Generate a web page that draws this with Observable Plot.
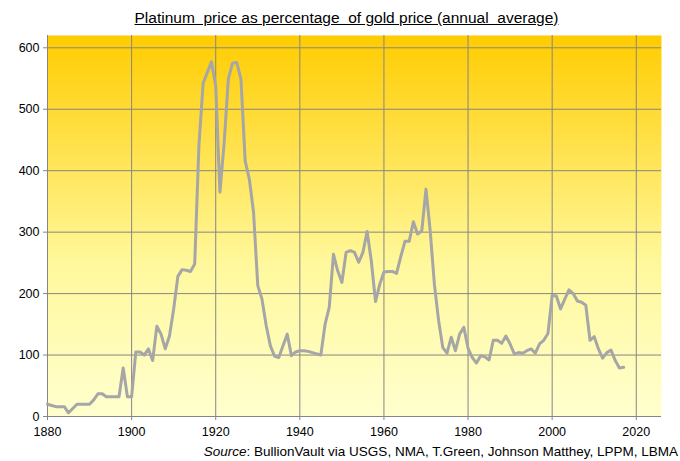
<!DOCTYPE html>
<html>
<head>
<meta charset="utf-8">
<script src="https://cdn.jsdelivr.net/npm/d3@7"></script>
<script src="https://cdn.jsdelivr.net/npm/@observablehq/plot@0.6"></script>
<style>
  html, body { margin: 0; padding: 0; background: #ffffff; }
  #wrap { width: 680px; font-family: "Liberation Sans", Arial, sans-serif; color: #000; }
  #title { height: 30px; box-sizing: border-box; padding-left: 13px; text-align: center; font-size: 15.5px; line-height: 15px; padding-top: 10px; white-space: pre; }
  #title span { text-decoration: underline; }
  #caption { height: 16px; box-sizing: border-box; text-align: right; padding-right: 2px; font-size: 13.5px; line-height: 14px; white-space: pre; }
</style>
</head>
<body>
<div id="wrap">
  <div id="title"><span>Platinum  price as percentage  of gold price (annual  average)</span></div>
  <div id="chart"></div>
  <div id="caption"><i>Source</i>: BullionVault via USGS, NMA, T.Green, Johnson Matthey, LPPM, LBMA</div>
</div>
<script>
// Years (categories)
const firstYear = 1880;
const lastYear = 2017;
// Platinum price as % of gold price, annual average, one value per year 1880..2017
const ratioValues = [
  20, 18, 16, 16, 16, 6, 13, 20, 20, 20,          // 1880-1889
  20, 27, 37, 37, 32, 32, 32, 32, 79, 32,         // 1890-1899
  32, 105, 105, 100, 110, 91, 147, 134, 110, 131, // 1900-1909
  175, 228, 239, 238, 236, 248, 440, 542, 560, 577, // 1910-1919
  538, 365, 445, 549, 575, 576, 549, 416, 386, 332, // 1920-1929
  213, 191, 148, 115, 98, 96, 115, 134, 99, 105,  // 1930-1939
  107, 107, 106, 104, 102, 100, 150, 178, 264, 237, // 1940-1949
  218, 267, 270, 267, 251, 267, 301, 253, 187, 215, // 1950-1959
  235, 236, 236, 233, 260, 285, 285, 317, 297, 302, // 1960-1969
  370, 302, 215, 156, 112, 103, 129, 107, 134, 145, // 1970-1979
  111, 96, 87, 99, 97, 92, 124, 124, 119, 131,    // 1980-1989
  118, 102, 104, 103, 107, 110, 103, 118, 124, 135, // 1990-1999
  197, 196, 175, 191, 206, 200, 188, 186, 181, 124, // 2000-2009
  130, 110, 95, 104, 108, 91, 79, 80              // 2010-2017
];
// Axis ticks
const xTicks = [1880, 1900, 1920, 1940, 1960, 1980, 2000, 2020];
const yTicks = [0, 100, 200, 300, 400, 500, 600];
const xDomain = [1880, 2026];
const yDomain = [0, 620];

const data = ratioValues.map((v, i) => ({year: firstYear + i, ratio: v}));

const gridColor = "#868686";

const chart = Plot.plot({
  width: 680,
  height: 415,
  marginLeft: 47,
  marginRight: 19,
  marginTop: 5,
  marginBottom: 29,
  style: {fontFamily: "'Liberation Sans', Arial, sans-serif", fontSize: "12.5px", color: "#000", background: "transparent"},
  x: {domain: xDomain, ticks: xTicks, tickFormat: d => String(d)},
  y: {domain: yDomain, ticks: yTicks},
  marks: [
    Plot.frame({fill: "url(#bggrad)", stroke: "none"}),
    Plot.gridX(xTicks, {stroke: gridColor, strokeOpacity: 1, strokeWidth: 1}),
    Plot.gridY(yTicks, {stroke: gridColor, strokeOpacity: 1, strokeWidth: 1}),
    Plot.axisX(xTicks, {tickSize: 4, tickPadding: 7, stroke: gridColor, fill: "#000", tickFormat: d => String(d), label: null}),
    Plot.axisY(yTicks, {tickSize: 4, tickPadding: 4, stroke: gridColor, fill: "#000", label: null}),
    Plot.line(data, {x: "year", y: "ratio", stroke: "#A6A6A6", strokeWidth: 3, strokeLinejoin: "round", strokeLinecap: "round"})
  ]
});

// gradient background definition for the plot area
const svg = d3.select(chart);
const defs = svg.insert("defs", ":first-child");
const grad = defs.append("linearGradient")
  .attr("id", "bggrad").attr("x1", 0).attr("y1", 0).attr("x2", 0).attr("y2", 1);
grad.append("stop").attr("offset", "0%").attr("stop-color", "#FFCC00");
grad.append("stop").attr("offset", "30%").attr("stop-color", "#FFE24E");
grad.append("stop").attr("offset", "60%").attr("stop-color", "#FFF89C");
grad.append("stop").attr("offset", "100%").attr("stop-color", "#FFFFCE");

document.getElementById("chart").appendChild(chart);
</script>
</body>
</html>
